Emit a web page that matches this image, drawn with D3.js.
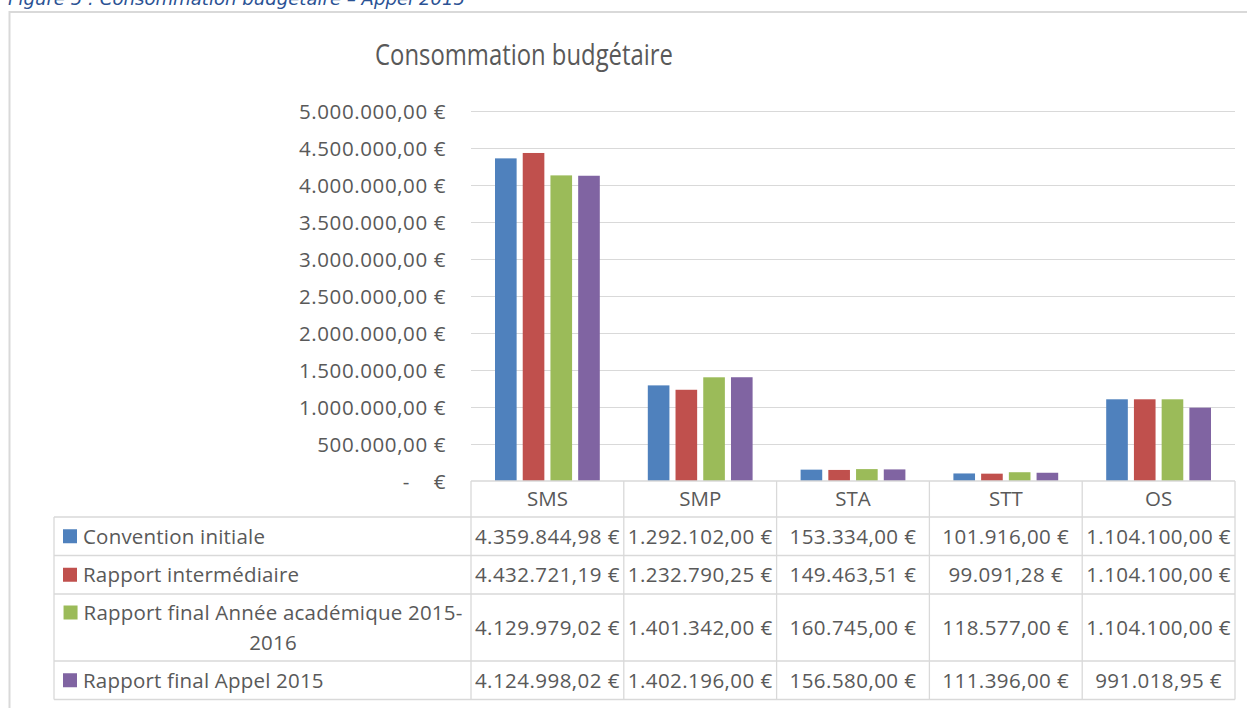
<!DOCTYPE html>
<html>
<head>
<meta charset="utf-8">
<script src="https://cdn.jsdelivr.net/npm/d3@7"></script>
<style>
  html, body { margin: 0; padding: 0; background: #fff; }
  svg { display: block; }
</style>
</head>
<body>
<div id="chart"></div>
<script>
// chart data
const categories = ['SMS', 'SMP', 'STA', 'STT', 'OS'];
const seriesNames = [
  'Convention initiale',
  'Rapport intermédiaire',
  'Rapport final Année académique 2015-2016',
  'Rapport final Appel 2015'
];
const conventionInitiale   = [4359844.98, 1292102.00, 153334.00, 101916.00, 1104100.00];
const rapportIntermediaire = [4432721.19, 1232790.25, 149463.51,  99091.28, 1104100.00];
const rapportFinalAnnee    = [4129979.02, 1401342.00, 160745.00, 118577.00, 1104100.00];
const rapportFinalAppel    = [4124998.02, 1402196.00, 156580.00, 111396.00,  991018.95];
const seriesValues = [conventionInitiale, rapportIntermediaire, rapportFinalAnnee, rapportFinalAppel];
const seriesColors = ['#4F81BD', '#C0504D', '#9BBB59', '#8064A2'];
const yTicks = [0, 500000, 1000000, 1500000, 2000000, 2500000, 3000000, 3500000, 4000000, 4500000, 5000000];
const chartTitle = 'Consommation budgétaire';
const caption = 'Figure 5 : Consommation budgétaire – Appel 2015';

const W = 1247, H = 708;
const plot = { left: 471, right: 1235, top: 111, bottom: 481 };
const legendLeft = 54;
const headerH = 36;
const rowH = 38.5, extraLineH = 28.5, lineGap = 30;
const fs = 20.5;
const textColor = '#595959';
const ruleColor = '#d9d9d9';

// fr-BE style money: 4.359.844,98 €
const locale = d3.formatLocale({ decimal: ',', thousands: '.', grouping: [3], currency: ['', ' €'] });
const money = locale.format('$,.2f');
const tickLabel = v => v === 0 ? '-\u00a0\u00a0\u00a0\u00a0€' : money(v);

const svg = d3.select('#chart').append('svg')
  .attr('width', W).attr('height', H)
  .style('font-family', '"Open Sans", sans-serif');

// chart frame (runs past the cropped right / bottom edges)
svg.append('rect')
  .attr('x', 9.5).attr('y', 12)
  .attr('width', W + 20).attr('height', H + 20)
  .attr('fill', '#fff')
  .attr('stroke', ruleColor).attr('stroke-width', 2);

// figure caption, cut off by the top edge like in the source document
svg.append('text')
  .attr('x', 8).attr('y', 5)
  .style('font-family', '"DejaVu Sans", Verdana, sans-serif')
  .style('font-style', 'italic')
  .style('font-size', '18.1px')
  .attr('fill', '#2b5294')
  .text(caption);

// title: a narrow light face in the original, so squeeze Open Sans a bit
svg.append('text')
  .attr('transform', 'translate(524,65) scale(0.795,1)')
  .attr('text-anchor', 'middle')
  .style('font-family', '"Open Sans", sans-serif')
  .style('font-size', '30px')
  .attr('fill', textColor)
  .text(chartTitle);

const y = d3.scaleLinear().domain([0, 5000000]).range([plot.bottom, plot.top]);
const x0 = d3.scaleBand().domain(categories).range([plot.left, plot.right]);
const x1 = d3.scaleBand().domain(d3.range(seriesNames.length))
  .range([24, x0.bandwidth() - 24])
  .paddingInner(0.22);

// gridlines
svg.append('g')
  .attr('transform', `translate(${plot.left},0)`)
  .call(d3.axisLeft(y).tickValues(yTicks.filter(v => v > 0))
    .tickSize(-(plot.right - plot.left)).tickFormat(''))
  .call(g => g.select('.domain').remove())
  .call(g => g.selectAll('line').attr('stroke', ruleColor));

// y axis labels
svg.append('g')
  .attr('transform', `translate(${plot.left},0)`)
  .call(d3.axisLeft(y).tickValues(yTicks).tickFormat(tickLabel).tickSize(0).tickPadding(25))
  .call(g => g.select('.domain').remove())
  .call(g => g.selectAll('text')
    .attr('dy', null)
    .attr('y', fs * 0.357)
    .style('font-family', '"Open Sans", sans-serif')
    .style('font-size', fs + 'px')
    .style('letter-spacing', '0.6px')
    .attr('fill', textColor));

// bars
const groups = svg.append('g').selectAll('g')
  .data(categories)
  .join('g')
  .attr('transform', d => `translate(${x0(d)},0)`);

groups.selectAll('rect')
  .data((c, ci) => seriesValues.map((vals, si) => ({ si, v: vals[ci] })))
  .join('rect')
  .attr('x', d => x1(d.si))
  .attr('width', x1.bandwidth())
  .attr('y', d => y(d.v))
  .attr('height', d => y(0) - y(d.v))
  .attr('fill', d => seriesColors[d.si]);

// ---- data table ----
const table = svg.append('g');
const textStyle = sel => sel
  .style('font-family', '"Open Sans", sans-serif')
  .style('font-size', fs + 'px')
  .attr('fill', textColor);

// category header row (acts as x axis)
svg.append('g')
  .attr('transform', `translate(0,${plot.bottom})`)
  .call(d3.axisBottom(x0).tickSize(0).tickPadding(0))
  .call(g => g.select('.domain').remove())
  .call(g => g.selectAll('text')
    .attr('dy', null)
    .attr('y', headerH / 2 + fs * 0.357)
    .call(textStyle));

// wrap legend labels the way Excel does (after spaces or hyphens)
const legendTextLeft = 83, legendTextW = 380;
const measurer = svg.append('text').call(textStyle).style('letter-spacing', '0.2px');
function measure(s) { measurer.text(s); return measurer.node().getComputedTextLength(); }
function wrap(str, maxW) {
  const tokens = str.split(/(?<=[\s-])/);
  const lines = [];
  let cur = '';
  tokens.forEach(t => {
    if (cur && measure((cur + t).trimEnd()) > maxW) { lines.push(cur.trimEnd()); cur = t; }
    else cur += t;
  });
  if (cur) lines.push(cur.trimEnd());
  return lines;
}

let rowTop = plot.bottom + headerH;
const rows = seriesNames.map((name, si) => {
  const lines = wrap(name, legendTextW + 15);
  const h = rowH + (lines.length - 1) * extraLineH;
  const r = { si, lines, top: rowTop, h };
  rowTop += h;
  return r;
});
measurer.remove();
const tableBottom = rowTop;

// grid lines of the table
table.append('line')
  .attr('x1', plot.left).attr('x2', plot.right)
  .attr('y1', plot.bottom).attr('y2', plot.bottom);
rows.forEach(r => table.append('line')
  .attr('x1', legendLeft).attr('x2', plot.right)
  .attr('y1', r.top).attr('y2', r.top));
table.append('line')
  .attr('x1', legendLeft).attr('x2', plot.right)
  .attr('y1', tableBottom).attr('y2', tableBottom);
table.append('line')
  .attr('x1', legendLeft).attr('x2', legendLeft)
  .attr('y1', plot.bottom + headerH).attr('y2', tableBottom);
categories.concat([null]).forEach(c => {
  const xx = c === null ? plot.right : x0(c);
  table.append('line')
    .attr('x1', xx).attr('x2', xx)
    .attr('y1', plot.bottom).attr('y2', tableBottom);
});
table.selectAll('line').attr('stroke', ruleColor).attr('stroke-width', 1.3);

// legend cells
rows.forEach(r => {
  const cy = r.top + r.h / 2;
  const multi = r.lines.length > 1;
  let keyX = legendTextLeft - 20;
  r.lines.forEach((ln, i) => {
    const ly = cy + (i - (r.lines.length - 1) / 2) * lineGap;
    const t = table.append('text')
      .attr('y', ly + fs * 0.357)
      .call(textStyle)
      .style('letter-spacing', '0.2px')
      .text(ln);
    if (multi) {
      const cx = legendTextLeft + legendTextW / 2;
      t.attr('x', cx).attr('text-anchor', 'middle');
      if (i === 0) keyX = cx - t.node().getComputedTextLength() / 2 - 20;
    } else {
      t.attr('x', legendTextLeft);
    }
  });
  const ky = cy - ((r.lines.length - 1) / 2) * lineGap;
  table.append('rect')
    .attr('x', keyX).attr('y', ky - 7)
    .attr('width', 14).attr('height', 14)
    .attr('fill', seriesColors[r.si]);
});

// value cells
rows.forEach(r => {
  const cy = r.top + r.h / 2;
  table.append('g').selectAll('text')
    .data(categories)
    .join('text')
    .attr('x', c => x0(c) + x0.bandwidth() / 2)
    .attr('y', cy + fs * 0.357)
    .attr('text-anchor', 'middle')
    .call(textStyle)
    .style('letter-spacing', '0.45px')
    .text((c, ci) => money(seriesValues[r.si][ci]));
});
</script>
</body>
</html>
